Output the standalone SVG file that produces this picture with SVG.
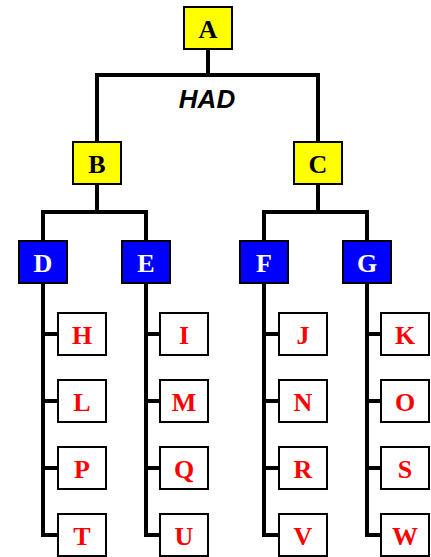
<svg xmlns="http://www.w3.org/2000/svg" width="431" height="557" viewBox="0 0 431 557">
<style>
.box{stroke:#000;stroke-width:2}
.y{fill:#ffff00}.b{fill:#0000ff}.w{fill:#fff}
text.n{font-family:"Liberation Serif","Times New Roman",serif;font-weight:bold;font-size:26px;text-anchor:middle}
.tb{fill:#000}.tw{fill:#fff}.tr{fill:#ff0000}
#connectors path{fill:none;stroke:#000;stroke-width:4;stroke-linejoin:miter;stroke-linecap:butt}
</style>
<rect width="431" height="557" fill="#fff"/>
<g id="connectors">
<path d="M208 49V75"/><path d="M97 142V75H318V142"/>
<path d="M97 183V212"/><path d="M43 241V212H146V241"/>
<path d="M318 184V212"/><path d="M264 241V212H367V241"/>
<path d="M43 283V535H58M43 334H58M43 401H58M43 468H58"/>
<path d="M146 283V535H160M146 334H160M146 401H160M146 468H160"/>
<path d="M264 283V535H279M264 334H279M264 401H279M264 468H279"/>
<path d="M367 283V535H381M367 334H381M367 401H381M367 468H381"/>
</g>
<text x="207" y="108" font-family="Liberation Sans,Arial,sans-serif" font-weight="bold" font-style="italic" font-size="26" text-anchor="middle">HAD</text>
<g id="A"><rect class="box y" x="184" y="7" width="48" height="42"/><text class="n tb" x="208" y="38">A</text></g>
<g id="B"><rect class="box y" x="73" y="142" width="48" height="42"/><text class="n tb" x="97" y="173">B</text></g>
<g id="C"><rect class="box y" x="294" y="142" width="48" height="42"/><text class="n tb" x="318" y="173">C</text></g>
<g id="D"><rect class="box b" x="19" y="241" width="48" height="42"/><text class="n tw" x="43" y="272">D</text></g>
<g id="E"><rect class="box b" x="122" y="241" width="48" height="42"/><text class="n tw" x="146" y="272">E</text></g>
<g id="F"><rect class="box b" x="240" y="241" width="48" height="42"/><text class="n tw" x="264" y="272">F</text></g>
<g id="G"><rect class="box b" x="343" y="241" width="48" height="42"/><text class="n tw" x="367" y="272">G</text></g>
<g id="H"><rect class="box w" x="58" y="313" width="48" height="42"/><text class="n tr" x="82" y="344">H</text></g>
<g id="L"><rect class="box w" x="58" y="380" width="48" height="42"/><text class="n tr" x="82" y="411">L</text></g>
<g id="P"><rect class="box w" x="58" y="447" width="48" height="42"/><text class="n tr" x="82" y="478">P</text></g>
<g id="T"><rect class="box w" x="58" y="514" width="48" height="42"/><text class="n tr" x="82" y="545">T</text></g>
<g id="I"><rect class="box w" x="160" y="313" width="48" height="42"/><text class="n tr" x="184" y="344">I</text></g>
<g id="M"><rect class="box w" x="160" y="380" width="48" height="42"/><text class="n tr" x="184" y="411">M</text></g>
<g id="Q"><rect class="box w" x="160" y="447" width="48" height="42"/><text class="n tr" x="184" y="478">Q</text></g>
<g id="U"><rect class="box w" x="160" y="514" width="48" height="42"/><text class="n tr" x="184" y="545">U</text></g>
<g id="J"><rect class="box w" x="279" y="313" width="48" height="42"/><text class="n tr" x="303" y="344">J</text></g>
<g id="N"><rect class="box w" x="279" y="380" width="48" height="42"/><text class="n tr" x="303" y="411">N</text></g>
<g id="R"><rect class="box w" x="279" y="447" width="48" height="42"/><text class="n tr" x="303" y="478">R</text></g>
<g id="V"><rect class="box w" x="279" y="514" width="48" height="42"/><text class="n tr" x="303" y="545">V</text></g>
<g id="K"><rect class="box w" x="381" y="313" width="48" height="42"/><text class="n tr" x="405" y="344">K</text></g>
<g id="O"><rect class="box w" x="381" y="380" width="48" height="42"/><text class="n tr" x="405" y="411">O</text></g>
<g id="S"><rect class="box w" x="381" y="447" width="48" height="42"/><text class="n tr" x="405" y="478">S</text></g>
<g id="W"><rect class="box w" x="381" y="514" width="48" height="42"/><text class="n tr" x="405" y="545">W</text></g>
</svg>
